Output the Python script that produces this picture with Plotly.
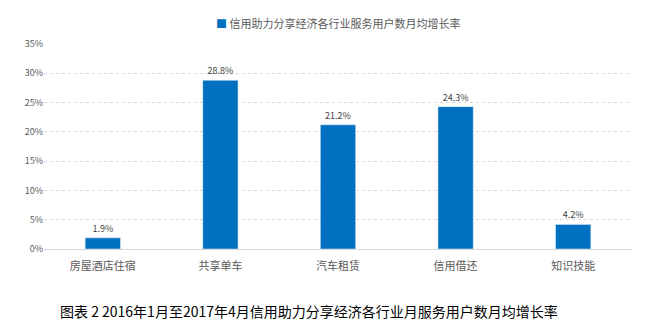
import plotly.graph_objects as go

categories = ["房屋酒店住宿", "共享单车", "汽车租赁", "信用借还", "知识技能"]
values = [1.9, 28.8, 21.2, 24.3, 4.2]
labels = ["1.9%", "28.8%", "21.2%", "24.3%", "4.2%"]
tick_vals = [0, 5, 10, 15, 20, 25, 30, 35]
tick_text = ["0%", "5%", "10%", "15%", "20%", "25%", "30%", "35%"]
series_name = "信用助力分享经济各行业服务用户数月均增长率"
caption = "图表 2 2016年1月至2017年4月信用助力分享经济各行业月服务用户数月均增长率"

font = "Noto Sans CJK SC"
bar_color = "#0070C0"
fig = go.Figure()
fig.add_trace(go.Bar(
    x=categories, y=values, name=series_name,
    marker=dict(color=bar_color),
    width=0.3,
    text=labels, textposition="outside",
    textfont=dict(size=9, color="#404040", family=font),
    cliponaxis=False, showlegend=False,
))
fig.update_layout(
    width=650, height=333,
    margin=dict(l=44, r=18, t=44, b=84),
    paper_bgcolor="white", plot_bgcolor="white",
    showlegend=False,
    xaxis=dict(showgrid=False, showline=True, linecolor="#D9D9D9", linewidth=1,
               ticks="", ticklabelstandoff=7,
               tickfont=dict(size=11, color="#595959", family=font)),
    yaxis=dict(range=[0, 35], tickvals=tick_vals, ticktext=tick_text,
               showgrid=True, gridcolor="#D9D9D9", griddash="dot", gridwidth=1,
               zeroline=False, showline=False, ticks="",
               tickfont=dict(size=9, color="#595959", family=font)),
    annotations=[
        dict(text=f"<span style='color:{bar_color}'>■</span> " + series_name,
             xref="paper", yref="paper", x=0.5, y=1.102,
             xanchor="center", yanchor="middle", showarrow=False,
             font=dict(size=11, color="#595959", family=font)),
        dict(text=caption, xref="paper", yref="paper", x=0.024, y=-0.302,
             xanchor="left", yanchor="middle", showarrow=False,
             font=dict(size=14, color="#000000", family=font)),
    ],
)
fig.write_html("out.html")
